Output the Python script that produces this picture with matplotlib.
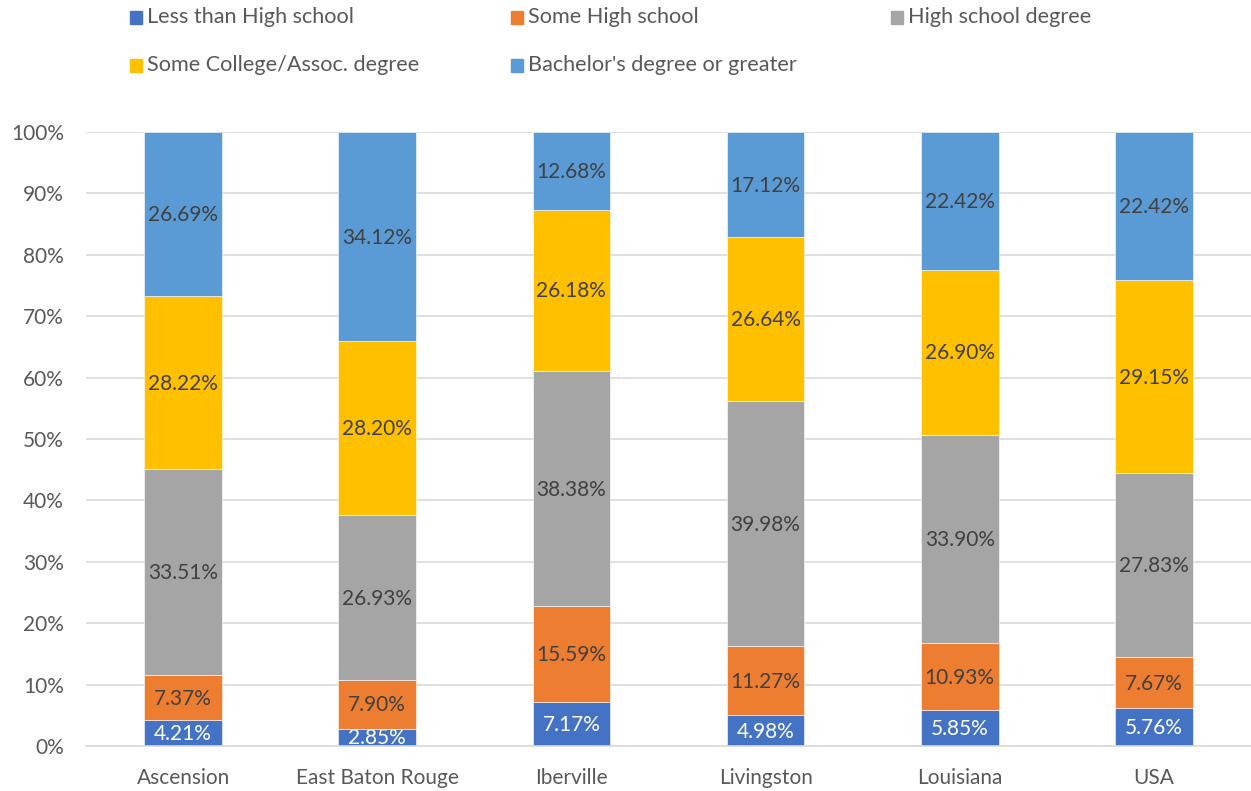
import numpy as np
import matplotlib.pyplot as plt
from matplotlib.patches import Rectangle
from matplotlib.ticker import PercentFormatter

plt.rcParams['font.family'] = ['Lato', 'DejaVu Sans']

regions = ["Ascension", "East Baton Rouge", "Iberville", "Livingston", "Louisiana", "USA"]
series = ["Less than High school", "Some High school", "High school degree",
          "Some College/Assoc. degree", "Bachelor's degree or greater"]
less_hs = [4.21, 2.85, 7.17, 4.98, 5.85, 5.76]
some_hs = [7.37, 7.90, 15.59, 11.27, 10.93, 7.67]
hs_degree = [33.51, 26.93, 38.38, 39.98, 33.90, 27.83]
some_college = [28.22, 28.20, 26.18, 26.64, 26.90, 29.15]
bachelors = [26.69, 34.12, 12.68, 17.12, 22.42, 22.42]
colors = ["#4472C4", "#ED7D31", "#A5A5A5", "#FFC000", "#5B9BD5"]

vals = np.array([less_hs, some_hs, hs_degree, some_college, bachelors])
share = vals / vals.sum(axis=0) * 100  # 100% stacked

fig = plt.figure(figsize=(12.51, 7.91), dpi=100)
ax = fig.add_axes([86 / 1251, 45 / 791, 1165 / 1251, 614 / 791])

fs = 15
x = np.arange(len(regions))
bottom = np.zeros(len(regions))
for i in range(len(series)):
    ax.bar(x, share[i], 0.4, bottom=bottom, color=colors[i], zorder=2,
           edgecolor="white", linewidth=0.4)
    for j in range(len(regions)):
        ax.text(x[j], bottom[j] + share[i][j] / 2 - 0.2, f"{vals[i][j]:.2f}%",
                ha="center", va="center", fontsize=fs,
                color="white" if i == 0 else "#404040", zorder=3)
    bottom += share[i]

ax.set_xlim(-0.5, len(regions) - 0.5)
ax.set_ylim(0, 100)
ax.set_yticks(np.arange(0, 101, 10))
ax.yaxis.set_major_formatter(PercentFormatter(decimals=0))
ax.set_xticks(x)
ax.set_xticklabels(regions)
ax.tick_params(axis="both", length=0, labelsize=fs, labelcolor="#595959")
ax.tick_params(axis="x", pad=16)
ax.tick_params(axis="y", pad=16)
ax.grid(axis="y", color="#D9D9D9", linewidth=1.2, zorder=0)
for s in ["top", "right", "left"]:
    ax.spines[s].set_visible(False)
ax.spines["bottom"].set_color("#D9D9D9")
ax.spines["bottom"].set_linewidth(1.2)

# legend, 3 columns x 2 rows
col_x = [130, 511, 891]
row_y = [17, 65]
for i, name in enumerate(series):
    cx = col_x[i % 3]
    cy = row_y[i // 3]
    fig.add_artist(Rectangle((cx / 1251, (791 - cy - 6.5) / 791), 12 / 1251, 13 / 791,
                             transform=fig.transFigure, color=colors[i]))
    fig.text((cx + 17) / 1251, (791 - cy) / 791, name, ha="left", va="center",
             fontsize=15.6, color="#595959")

fig.savefig("out.png", dpi=100)
